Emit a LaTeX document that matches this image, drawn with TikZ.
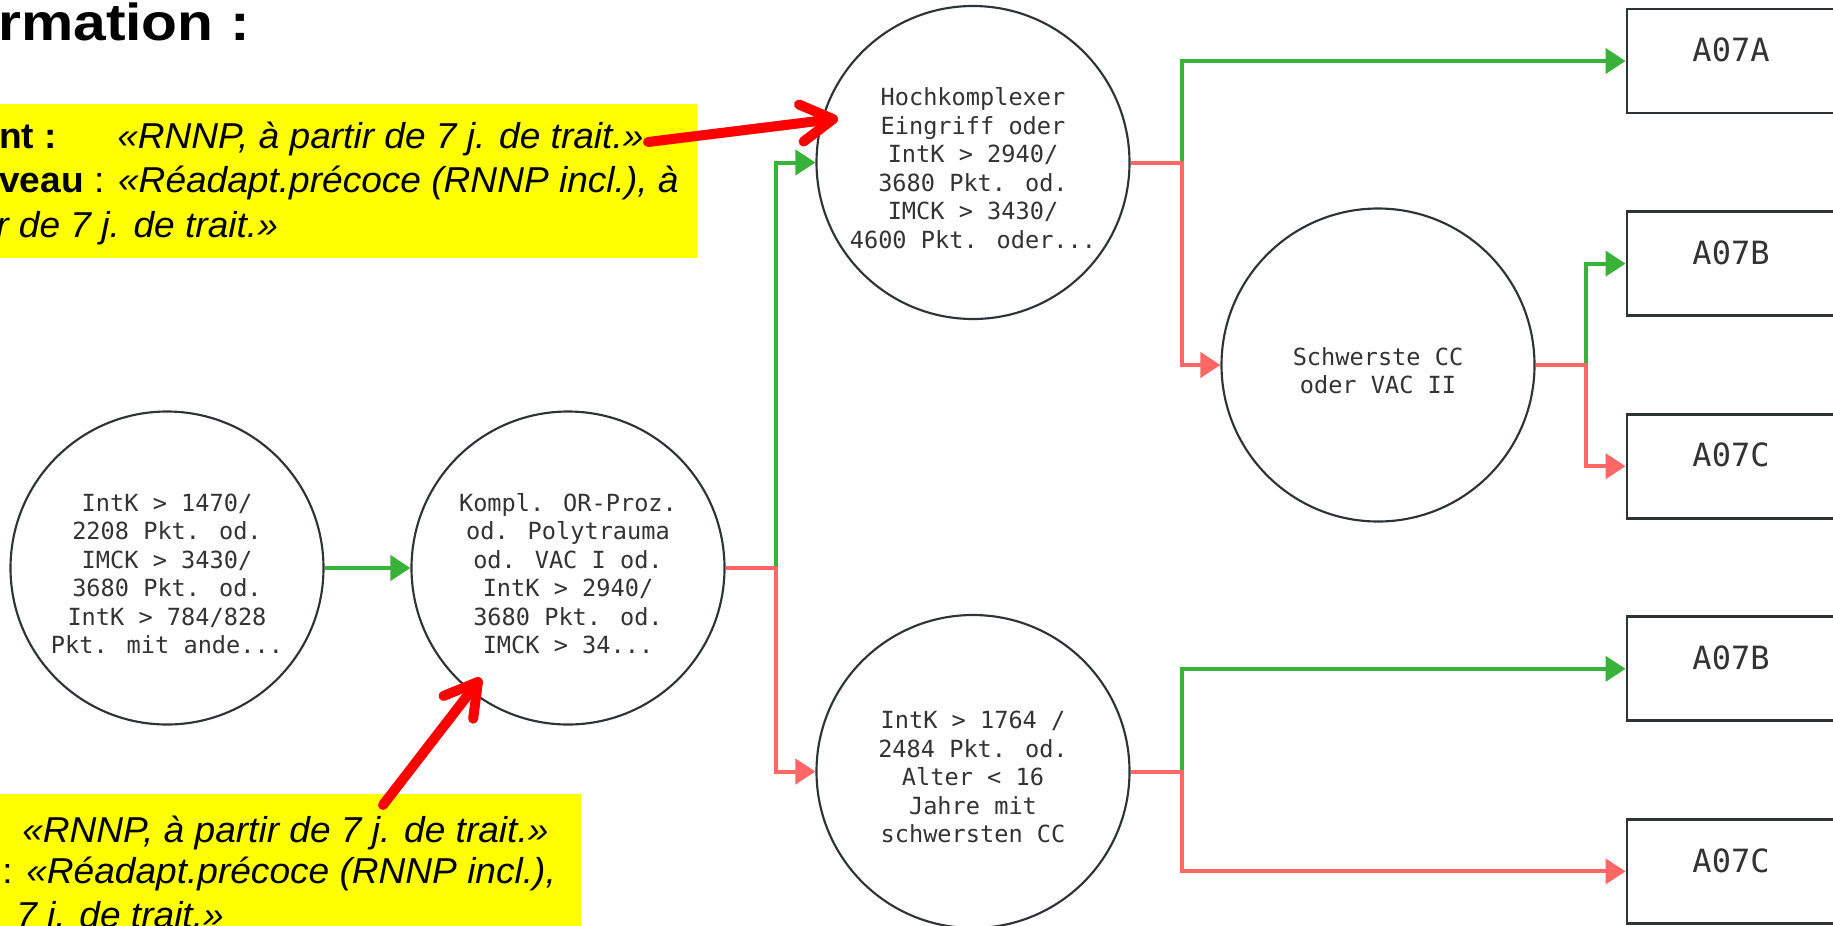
\documentclass[tikz,border=0pt]{standalone}
\usepackage{fontspec}
\setmainfont{Liberation Sans}
\newfontfamily\slidefont{Liberation Sans}[FakeStretch=1.03]
\newfontfamily\titlefont{Liberation Sans}[FakeStretch=1.13]
\newfontfamily\diagmono{DejaVu Sans Mono}
\usetikzlibrary{arrows.meta}
\definecolor{gEdge}{RGB}{56,178,56}
\definecolor{rEdge}{RGB}{255,102,102}
\definecolor{ink}{RGB}{45,52,54}
\definecolor{txt}{RGB}{51,51,51}
\definecolor{noteyellow}{RGB}{255,255,0}
\definecolor{notered}{RGB}{255,0,0}
\newcommand{\ctext}[1]{\raisebox{-6.5pt}[\height][\depth]{\begin{tabular}{@{}c@{}}#1\end{tabular}}}
\newcommand{\ltext}[1]{\raisebox{8.25pt}[\height][\depth]{#1}}
\tikzset{
  decision/.style={circle, draw=ink, line width=1.6pt, minimum size=234.75pt, inner sep=0pt,
    text=txt, font=\diagmono\fontsize{17.7pt}{21.4pt}\selectfont},
  leaf/.style={rectangle, draw=ink, line width=2.2pt, minimum width=156pt, minimum height=78pt,
    inner sep=0pt, text=txt, font=\diagmono\fontsize{24pt}{28pt}\selectfont},
  yesedge/.style={draw=gEdge, line width=3pt, -{Triangle[length=15pt,width=18.75pt]}},
  noedge/.style={draw=rEdge, line width=3pt, -{Triangle[length=15pt,width=18.75pt]}},
  annot/.style={draw=notered, line width=7.5pt, line cap=round, -{Straight Barb[round,length=24pt,width=28pt]}},
  ybox/.style={fill=noteyellow, draw=none, inner sep=0pt, anchor=north west},
  slidetxt/.style={inner sep=0pt, anchor=base west, font=\slidefont\fontsize{27pt}{33pt}\selectfont},
}
\begin{document}
\begin{tikzpicture}[x=0.75pt,y=-0.75pt]
\useasboundingbox (0,0) rectangle (1833,925);
\clip (0,0) rectangle (1833,925);
\fill[white] (0,0) rectangle (1833,925);

% title and yellow notes
\node[anchor=base west, inner sep=0pt, font=\titlefont\bfseries\fontsize{39pt}{44pt}\selectfont] (title) at (-2,40) {rmation :};

\node[ybox, minimum width=537.75pt, minimum height=115.5pt] (Y1) at (-20,104) {};
\node[slidetxt] (t1a) at (-1,148) {\textbf{nt :}};
\node[slidetxt] (t1b) at (117,148) {\textit{«RNNP, à partir de 7 j. de trait.»}};
\node[slidetxt] (t1c) at (-1,192) {\textbf{veau} : \textit{«Réadapt.précoce (RNNP incl.), à}};
\node[slidetxt] (t1d) at (-4,237) {\textit{r de 7 j. de trait.»}};

\node[ybox, minimum width=450.75pt, minimum height=109.5pt] (Y2) at (-20,794) {};
\node[slidetxt] (t2a) at (22,842) {\textit{«RNNP, à partir de 7 j. de trait.»}};
\node[slidetxt] (t2b) at (2,883) {: \textit{«Réadapt.précoce (RNNP incl.),}};
\node[slidetxt] (t2c) at (16,927) {\textit{7 j. de trait.»}};

% decision circles
\node[decision] (C1) at (167,568) {\ctext{IntK > 1470/\\2208 Pkt. od.\\IMCK > 3430/\\3680 Pkt. od.\\IntK > 784/828\\Pkt. mit ande...}};
\node[decision] (C2) at (568,568) {\ctext{Kompl. OR-Proz.\\od. Polytrauma\\od. VAC I od.\\IntK > 2940/\\3680 Pkt. od.\\IMCK > 34...}};
\node[decision] (C3) at (973,162.5) {\ctext{Hochkomplexer\\Eingriff oder\\IntK > 2940/\\3680 Pkt. od.\\IMCK > 3430/\\4600 Pkt. oder...}};
\node[decision] (C4) at (1378,365) {\ctext{Schwerste CC\\oder VAC II}};
\node[decision] (C5) at (973,771.5) {\ctext{IntK > 1764 /\\2484 Pkt. od.\\Alter < 16\\Jahre mit\\schwersten CC}};

% leaves
\node[leaf] (L1) at (1731,61) {\ltext{A07A}};
\node[leaf] (L2) at (1731,263.6) {\ltext{A07B}};
\node[leaf] (L3) at (1731,466.2) {\ltext{A07C}};
\node[leaf] (L4) at (1731,668.8) {\ltext{A07B}};
\node[leaf] (L5) at (1731,871.4) {\ltext{A07C}};

% connectors
\draw[yesedge] (C1) -- (C2);
\draw[yesedge] (C2.east) -- ++(50.5,0) |- (C3.west);
\draw[noedge] (C2.east) -- ++(50.5,0) |- (C5.west);
\draw[yesedge] (C3.east) -- ++(51.5,0) |- (L1.west);
\draw[noedge] (C3.east) -- ++(51.5,0) |- (C4.west);
\draw[yesedge] (C4.east) -- ++(50.5,0) |- (L2.west);
\draw[noedge] (C4.east) -- ++(50.5,0) |- (L3.west);
\draw[yesedge] (C5.east) -- ++(51.5,0) |- (L4.west);
\draw[noedge] (C5.east) -- ++(51.5,0) |- (L5.west);

% red annotation arrows
\coordinate (a1s) at (648,142);
\coordinate (a1e) at (838,118.5);
\coordinate (a2s) at (383,805);
\coordinate (a2e) at (481,678);
\draw[annot] (a1s) -- (a1e);
\draw[annot] (a2s) -- (a2e);
\end{tikzpicture}
\end{document}
